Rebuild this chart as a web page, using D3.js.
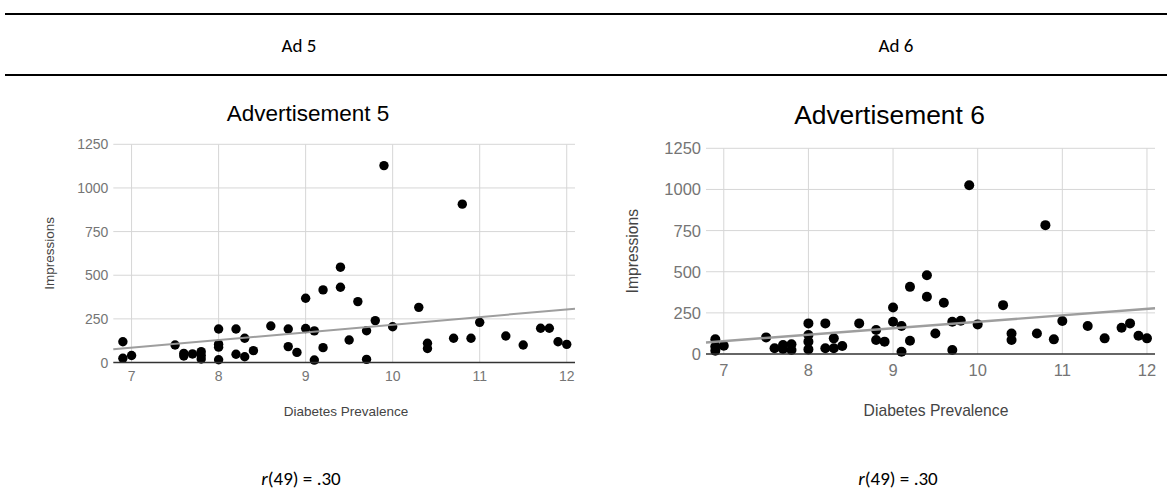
<!DOCTYPE html>
<html>
<head>
<meta charset="utf-8">
<script src="https://cdn.jsdelivr.net/npm/d3@7"></script>
<style>
  body { margin: 0; background: #fff; }
  svg { display: block; }
</style>
</head>
<body>
<div class="chart"></div>
<script>
// ---- data ----
var headers = ["Ad 5", "Ad 6"];
var chartTitles = ["Advertisement 5", "Advertisement 6"];
var correlations = [".30", ".30"];
var xTicks = [7, 8, 9, 10, 11, 12];
var yTicks = [0, 250, 500, 750, 1000, 1250];

var ad5Prevalence = [6.9, 6.9, 7.0, 7.5, 7.6, 7.6, 7.7, 7.8, 7.8, 7.8, 8.0, 8.0, 8.0, 8.0, 8.2, 8.2, 8.3, 8.3, 8.4, 8.6,
  8.8, 8.8, 8.9, 9.0, 9.0, 9.1, 9.1, 9.2, 9.2, 9.4, 9.4, 9.5, 9.6, 9.7, 9.7, 9.8, 9.9, 10.0, 10.3, 10.4,
  10.4, 10.7, 10.8, 10.9, 11.0, 11.3, 11.5, 11.7, 11.8, 11.9, 12.0];
var ad5Impressions = [119, 24, 40, 100, 37, 52, 49, 62, 20, 40, 192, 105, 88, 16, 192, 47, 139, 33, 68, 209,
  192, 91, 58, 368, 195, 181, 14, 416, 85, 546, 431, 129, 349, 182, 18, 240, 1128, 205, 316, 110,
  80, 139, 907, 139, 230, 152, 100, 196, 196, 119, 104];

var ad6Prevalence = [6.9, 6.9, 6.9, 7.0, 7.5, 7.6, 7.7, 7.7, 7.8, 7.8, 8.0, 8.0, 8.0, 8.0, 8.2, 8.2, 8.3, 8.3, 8.4, 8.6,
  8.8, 8.8, 8.9, 9.0, 9.0, 9.1, 9.1, 9.2, 9.2, 9.4, 9.4, 9.5, 9.6, 9.7, 9.7, 9.8, 9.9, 10.0, 10.3, 10.4,
  10.4, 10.7, 10.8, 10.9, 11.0, 11.3, 11.5, 11.7, 11.8, 11.9, 12.0];
var ad6Impressions = [89, 45, 20, 50, 101, 35, 55, 30, 59, 24, 186, 115, 75, 28, 186, 35, 95, 35, 49, 186,
  146, 85, 75, 283, 196, 170, 14, 408, 81, 479, 348, 125, 311, 196, 24, 202, 1025, 180, 297, 125,
  85, 125, 783, 89, 200, 170, 95, 160, 186, 111, 95];

var svgWidth = 1167;
var svgHeight = 500;

var svg = d3.select(".chart")
  .append("svg")
  .attr("width", svgWidth)
  .attr("height", svgHeight);

// ---- table header rules and labels ----
svg.append("line").attr("x1", 5).attr("x2", svgWidth).attr("y1", 14).attr("y2", 14)
  .attr("stroke", "#000").attr("stroke-width", 2);
svg.append("line").attr("x1", 5).attr("x2", svgWidth).attr("y1", 75).attr("y2", 75)
  .attr("stroke", "#000").attr("stroke-width", 2);

var headFont = "Carlito, Lato, 'Open Sans', sans-serif";
var colCenters = [299, 896];

svg.selectAll(".head")
  .data(headers)
  .enter().append("text")
  .attr("class", "head")
  .attr("x", function(d, i) { return colCenters[i]; })
  .attr("y", 52)
  .attr("text-anchor", "middle")
  .style("font-family", headFont)
  .style("font-size", "19px")
  .text(function(d) { return d; });

correlations.forEach(function(r, i) {
  var t = svg.append("text")
    .attr("x", colCenters[i] + 2)
    .attr("y", 485)
    .attr("text-anchor", "middle")
    .style("font-family", headFont)
    .style("font-size", "19px");
  t.append("tspan").style("font-style", "italic").text("r");
  t.append("tspan").text("(49) = " + r);
});

// ---- one scatter panel ----
function drawPanel(opt) {
  var xs = opt.xValues, ys = opt.yValues;
  var points = xs.map(function(x, i) { return { x: x, y: ys[i] }; });

  var xScale = d3.scaleLinear().domain([6.79, 12.095]).range([opt.left, opt.right]);
  var yScale = d3.scaleLinear().domain([0, 1250]).range([opt.bottom, opt.top]);

  var g = svg.append("g").style("font-family", "'Liberation Sans', Arial, sans-serif");

  // title
  g.append("text")
    .attr("x", opt.titleX)
    .attr("y", opt.titleY)
    .attr("text-anchor", "middle")
    .style("font-size", opt.titleSize + "px")
    .attr("fill", "#000")
    .text(opt.title);

  // gridlines
  g.selectAll(".hgrid")
    .data(yTicks.slice(1))
    .enter().append("line")
    .attr("x1", opt.left).attr("x2", opt.right)
    .attr("y1", function(d) { return yScale(d); })
    .attr("y2", function(d) { return yScale(d); })
    .attr("stroke", "#d6d6d6").attr("stroke-width", 1);

  g.selectAll(".vgrid")
    .data(xTicks)
    .enter().append("line")
    .attr("x1", function(d) { return xScale(d); })
    .attr("x2", function(d) { return xScale(d); })
    .attr("y1", opt.top).attr("y2", opt.bottom)
    .attr("stroke", "#d6d6d6").attr("stroke-width", 1);

  // y tick labels
  g.selectAll(".ylab")
    .data(yTicks)
    .enter().append("text")
    .attr("x", opt.left - 5)
    .attr("y", function(d) { return yScale(d); })
    .attr("dy", "0.36em")
    .attr("text-anchor", "end")
    .attr("fill", "#757575")
    .style("font-size", opt.tickSize + "px")
    .text(function(d) { return d; });

  // x tick labels
  g.selectAll(".xlab")
    .data(xTicks)
    .enter().append("text")
    .attr("x", function(d) { return xScale(d); })
    .attr("y", opt.xTickY)
    .attr("text-anchor", "middle")
    .attr("fill", "#757575")
    .style("font-size", opt.tickSize + "px")
    .text(function(d) { return d; });

  // axis titles
  g.append("text")
    .attr("x", opt.xTitleX)
    .attr("y", opt.xTitleY)
    .attr("text-anchor", "middle")
    .attr("fill", "#444")
    .style("font-size", opt.axisSize + "px")
    .text("Diabetes Prevalence");

  g.append("text")
    .attr("transform", "translate(" + opt.yTitleX + "," + ((opt.top + opt.bottom) / 2) + ") rotate(-90)")
    .attr("text-anchor", "middle")
    .attr("fill", "#444")
    .style("font-size", opt.axisSize + "px")
    .text("Impressions");

  // least squares trendline
  var mx = d3.mean(xs), my = d3.mean(ys);
  var sxy = d3.sum(xs, function(x, i) { return (x - mx) * (ys[i] - my); });
  var sxx = d3.sum(xs, function(x) { return (x - mx) * (x - mx); });
  var slope = sxy / sxx, icpt = my - slope * mx;
  var xd = xScale.domain();

  // points
  g.selectAll("circle")
    .data(points)
    .enter().append("circle")
    .attr("cx", function(d) { return xScale(d.x); })
    .attr("cy", function(d) { return yScale(d.y); })
    .attr("r", opt.radius)
    .attr("fill", "#000");

  g.append("line")
    .attr("x1", xScale(xd[0])).attr("y1", yScale(icpt + slope * xd[0]))
    .attr("x2", xScale(xd[1])).attr("y2", yScale(icpt + slope * xd[1]))
    .attr("stroke", "#999").attr("stroke-width", opt.trendWidth)
    .attr("opacity", 0.95);

  // baseline
  g.append("line")
    .attr("x1", opt.left).attr("x2", opt.right)
    .attr("y1", yScale(0)).attr("y2", yScale(0))
    .attr("stroke", "#333").attr("stroke-width", 1.5);
}

drawPanel({
  title: chartTitles[0], xValues: ad5Prevalence, yValues: ad5Impressions,
  left: 113.3, right: 575, top: 144.3, bottom: 362.5,
  titleX: 308, titleY: 121, titleSize: 22.5,
  tickSize: 14, xTickY: 381, axisSize: 13.5,
  xTitleX: 346, xTitleY: 416, yTitleX: 54,
  radius: 4.7, trendWidth: 2
});

drawPanel({
  title: chartTitles[1], xValues: ad6Prevalence, yValues: ad6Impressions,
  left: 706, right: 1155, top: 148.3, bottom: 354,
  titleX: 889.5, titleY: 124.3, titleSize: 26.4,
  tickSize: 16.5, xTickY: 376, axisSize: 15.7,
  xTitleX: 936, xTitleY: 415.5, yTitleX: 638,
  radius: 5, trendWidth: 2.4
});
</script>
</body>
</html>
